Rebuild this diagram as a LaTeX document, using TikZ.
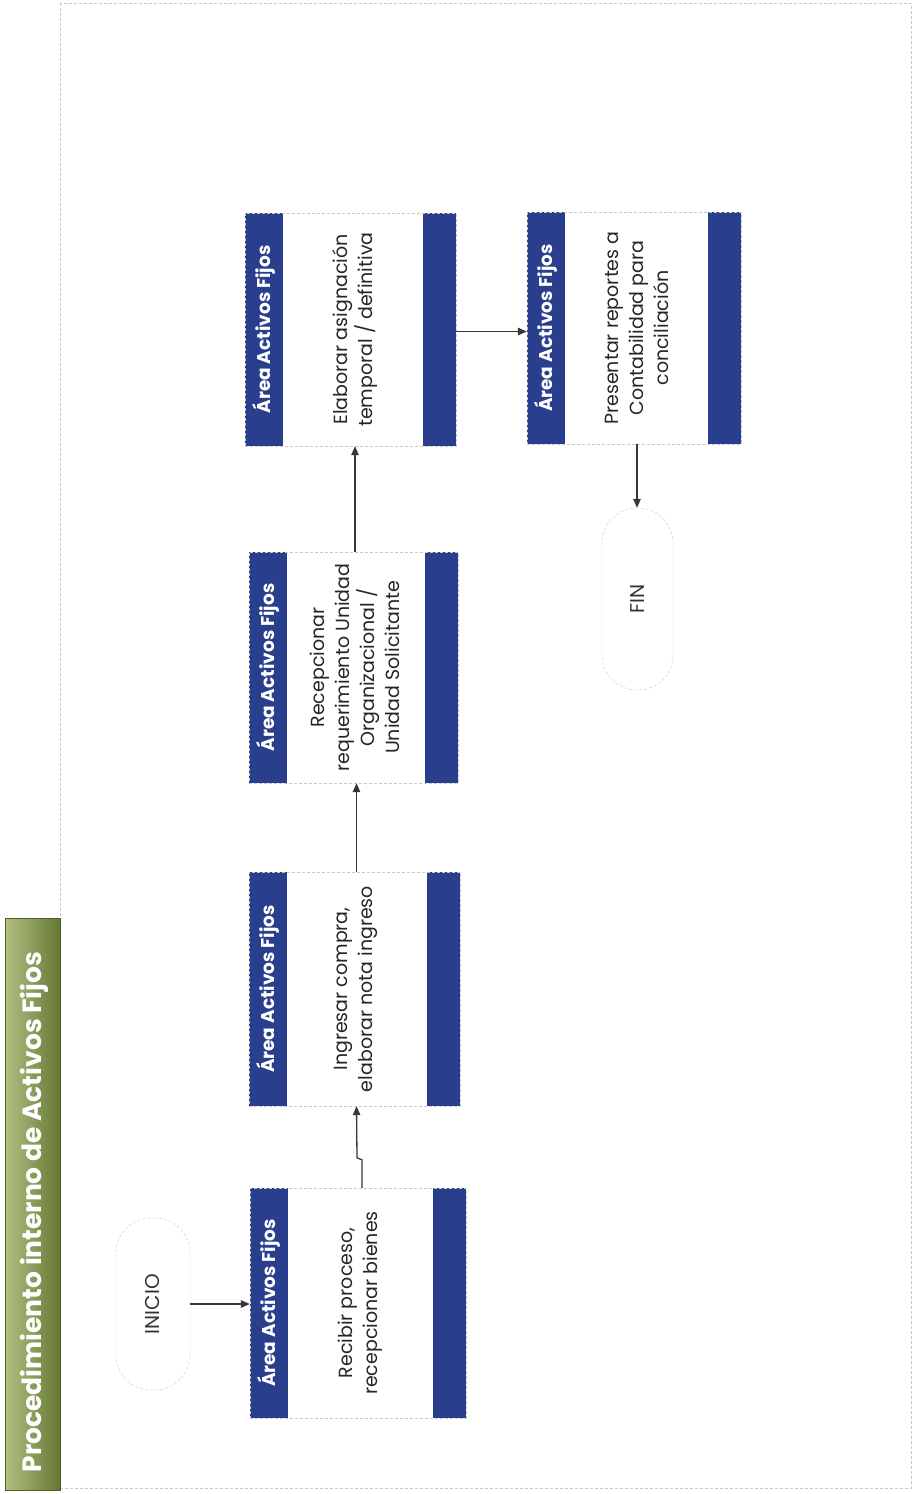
\documentclass[tikz,border=0pt]{standalone}
\usepackage{fontspec}
\setmainfont{Poppins}
\usetikzlibrary{arrows.meta}
\definecolor{afblue}{RGB}{42,62,142}
\definecolor{lgreen}{RGB}{178,192,130}
\definecolor{dgreen}{RGB}{100,120,52}
\definecolor{frameg}{RGB}{200,200,200}
\definecolor{lineg}{RGB}{55,55,55}
\begin{document}
\begin{tikzpicture}[x=1pt,y=-1pt,
  actbox/.style={rectangle, draw=frameg, densely dashed, fill=white, inner sep=0pt,
    path picture={
      \fill[afblue] (path picture bounding box.south west) rectangle ([xshift=38pt]path picture bounding box.north west);
      \fill[afblue] ([xshift=-33pt]path picture bounding box.south east) rectangle (path picture bounding box.north east);}},
  hdr/.style={rotate=90, text=white, font=\bfseries\fontsize{18.5}{22}\selectfont, inner sep=0pt},
  txt/.style={rotate=90, align=center, text=black!85, font=\fontsize{19}{25}\selectfont, inner sep=0pt},
  term/.style={rectangle, draw=frameg, densely dashed, fill=white, rounded corners=35pt, inner sep=0pt},
  termtxt/.style={rotate=90, text=black!80, font=\fontsize{20}{22}\selectfont, inner sep=0pt},
  conn/.style={draw=lineg, line width=1.3pt, -{Triangle[length=9pt,width=7.5pt]}}
]
\useasboundingbox (0,0) rectangle (913,1494);
\fill[white] (0,0) rectangle (913,1494);
% frame
\draw[frameg, densely dashed, line width=0.8pt] (60,3) rectangle (911,1488);
% title bar
\shade[left color=lgreen, right color=dgreen, draw=dgreen!80!black, line width=0.6pt] (5,918) rectangle (60,1490);
\node[rotate=90, text=white, font=\bfseries\fontsize{26.5}{30}\selectfont] (title) at (34,1212) {Procedimiento interno de Activos Fijos};

% terminals
\node[term, minimum width=74pt, minimum height=172pt] (ini) at (153,1304) {};
\node[termtxt] (initxt) at (ini.center) {INICIO};
\node[term, minimum width=71pt, minimum height=182pt] (fin) at (637.5,599) {};
\node[termtxt] (fintxt) at (fin.center) {FIN};

% activity boxes
\node[actbox, minimum width=216pt, minimum height=230pt] (b1) at (358,1303) {};
\node[hdr] (h1) at ([xshift=19pt]b1.west) {Área Activos Fijos};
\node[txt] (t1) at ([xshift=2pt]b1.center) {Recibir proceso,\\recepcionar bienes};

\node[actbox, minimum width=211pt, minimum height=234pt] (b2) at (354.5,989) {};
\node[hdr] (h2) at ([xshift=19pt]b2.west) {Área Activos Fijos};
\node[txt] (t2) at ([xshift=1pt]b2.center) {Ingresar compra,\\elaborar nota ingreso};

\node[actbox, minimum width=209pt, minimum height=231pt] (b3) at (353.5,667.5) {};
\node[hdr] (h3) at ([xshift=19pt]b3.west) {Área Activos Fijos};
\node[txt] (t3) at ([xshift=1pt]b3.center) {Recepcionar\\requerimiento Unidad\\Organizacional /\\Unidad Solicitante};

\node[actbox, minimum width=211pt, minimum height=233pt] (b4) at (350.5,329.5) {};
\node[hdr] (h4) at ([xshift=19pt]b4.west) {Área Activos Fijos};
\node[txt] (t4) at ([xshift=4pt]b4.center) {Elaborar asignación\\temporal / definitiva};

\node[actbox, minimum width=214pt, minimum height=232pt] (b5) at (634,328) {};
\node[hdr] (h5) at ([xshift=19pt]b5.west) {Área Activos Fijos};
\node[txt] (t5) at ([xshift=3pt]b5.center) {Presentar reportes a\\Contabilidad para\\conciliación};

% connectors
\draw[conn] (ini.east) -- (ini.east -| b1.west);
\draw[conn] ([xshift=4pt]b1.north) -- ++(0,-28) -- ++(-5,-2) -- ([xshift=2pt]b2.south);
\draw[conn] ([xshift=2pt]b2.north) -- ([xshift=2pt]b2.north |- b3.south);
\draw[conn] ([xshift=1.5pt]b3.north) -- ([xshift=1.5pt]b3.north |- b4.south);
\draw[conn] ([yshift=-2pt]b4.east) -- ([yshift=-2pt]b4.east -| b5.west);
\draw[conn] ([xshift=3pt]b5.south) -- ([xshift=3pt]b5.south |- fin.north);
\end{tikzpicture}
\end{document}
